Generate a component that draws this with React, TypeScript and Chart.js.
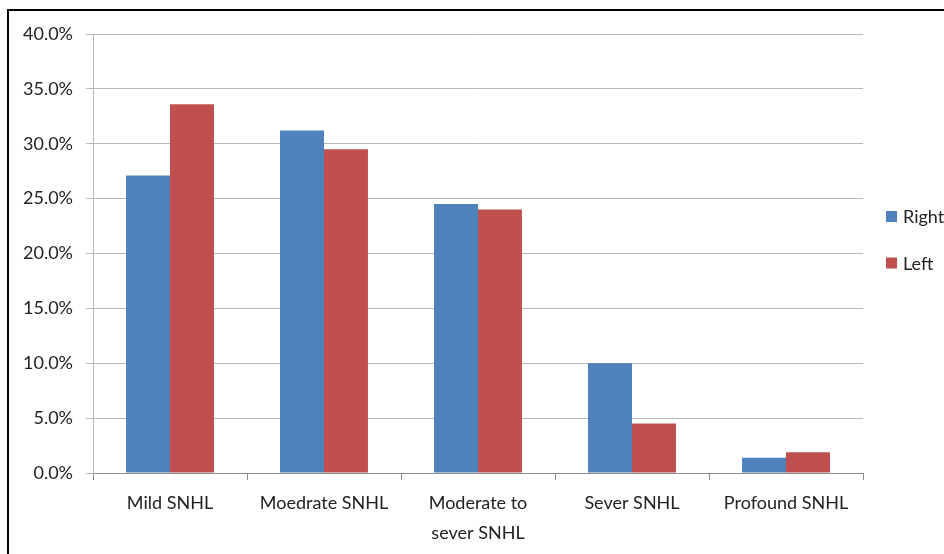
import React, { useEffect, useRef } from "react";
import { Chart, registerables } from "chart.js";

Chart.register(...registerables);

const categories: (string | string[])[] = [
  "Mild SNHL",
  "Moedrate SNHL",
  ["Moderate to", "sever SNHL"],
  "Sever SNHL",
  "Profound SNHL",
];
const rightValues = [27.1, 31.2, 24.5, 10.0, 1.4];
const leftValues = [33.6, 29.5, 24.0, 4.5, 1.9];
const seriesNames = ["Right", "Left"];
const seriesColors = ["#4F81BD", "#C0504D"];
const yMin = 0;
const yMax = 40;
const yStep = 5;

const FONT = "Lato, 'Noto Sans', sans-serif";
const TEXT = "#222222";
const GRID = "#B8B8B8";
const AXIS = "#8C8C8C";

const framePlugin = {
  id: "frame",
  afterDraw(chart: any) {
    const ctx = chart.ctx;
    ctx.save();
    ctx.strokeStyle = "#000000";
    ctx.lineWidth = 2;
    ctx.beginPath();
    ctx.moveTo(8, chart.height + 10);
    ctx.lineTo(8, 10);
    ctx.lineTo(chart.width + 10, 10);
    ctx.stroke();
    ctx.restore();
  },
};

const legendPlugin = {
  id: "sideLegend",
  afterDraw(chart: any) {
    const ctx = chart.ctx;
    const area = chart.chartArea;
    const x = area.right + 23;
    const startY = 216.5;
    const gap = 46.5;
    ctx.save();
    ctx.font = `18px ${FONT}`;
    ctx.textBaseline = "middle";
    ctx.textAlign = "left";
    chart.data.datasets.forEach((ds: any, i: number) => {
      const cy = startY + i * gap;
      ctx.fillStyle = ds.backgroundColor;
      ctx.fillRect(x, cy - 5.5, 11, 11);
      ctx.fillStyle = TEXT;
      ctx.fillText(ds.label, x + 17, cy + 1);
    });
    ctx.restore();
  },
};

export default function App() {
  const ref = useRef<HTMLCanvasElement | null>(null);

  useEffect(() => {
    if (!ref.current) return;
    const chart = new Chart(ref.current, {
      type: "bar",
      data: {
        labels: categories,
        datasets: [
          {
            label: seriesNames[0],
            data: rightValues,
            backgroundColor: seriesColors[0],
            categoryPercentage: 0.571,
            barPercentage: 1,
          },
          {
            label: seriesNames[1],
            data: leftValues,
            backgroundColor: seriesColors[1],
            categoryPercentage: 0.571,
            barPercentage: 1,
          },
        ],
      },
      options: {
        responsive: false,
        animation: false,
        layout: { padding: { left: 0, top: 34, right: 81, bottom: 0 } },
        plugins: {
          legend: { display: false },
          tooltip: { enabled: false },
        },
        scales: {
          x: {
            grid: {
              display: true,
              drawOnChartArea: false,
              drawTicks: true,
              tickLength: 7,
              color: AXIS,
              offset: true,
            },
            border: { display: true, color: AXIS },
            ticks: {
              color: TEXT,
              font: { family: FONT, size: 18, lineHeight: 30 / 18 },
              padding: 8,
              maxRotation: 0,
              autoSkip: false,
            },
            afterFit(scale: any) {
              scale.height = 81;
            },
          },
          y: {
            min: yMin,
            max: yMax,
            grid: {
              color: GRID,
              drawTicks: true,
              tickLength: 7,
            },
            border: { display: true, color: GRID },
            ticks: {
              stepSize: yStep,
              color: TEXT,
              font: { family: FONT, size: 18 },
              padding: 13,
              callback: (v: any) => Number(v).toFixed(1) + "%",
            },
            afterFit(scale: any) {
              scale.width = 93;
            },
          },
        },
      },
      plugins: [framePlugin, legendPlugin],
    });
    return () => chart.destroy();
  }, []);

  return (
    <div
      style={{
        position: "fixed",
        left: 0,
        top: 0,
        width: 944,
        height: 554,
        background: "#ffffff",
        overflow: "hidden",
      }}
    >
      <canvas ref={ref} width={944} height={554} style={{ display: "block" }} />
    </div>
  );
}
